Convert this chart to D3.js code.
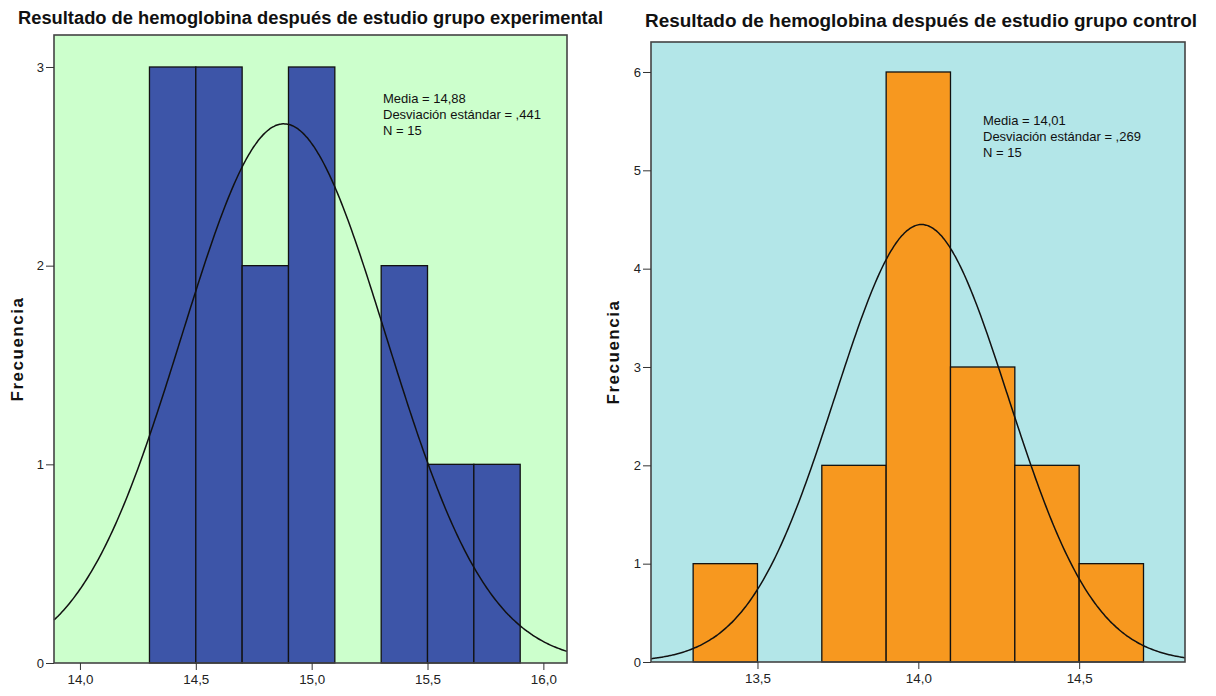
<!DOCTYPE html>
<html>
<head>
<meta charset="utf-8">
<script src="https://cdn.jsdelivr.net/npm/d3@7"></script>
<style>
  body { margin: 0; background: #fff; }
  svg { display: block; }
  .tick text { font-family: "Liberation Sans", Arial, sans-serif; font-size: 13px; fill: #222; }
  .tick line { stroke: #333; }
</style>
</head>
<body>
<svg id="chart" width="1216" height="696"></svg>
<script>
// Experimental group: bin edges and counts
const expEdges = [14.3, 14.5, 14.7, 14.9, 15.1, 15.3, 15.5, 15.7, 15.9];
const expCounts = [3, 3, 2, 3, 0, 2, 1, 1];
const expXTicks = [14.0, 14.5, 15.0, 15.5, 16.0];
const expYTicks = [0, 1, 2, 3];
const expStats = { mean: 14.88, sd: 0.441, n: 15 };
const expLabels = ['Media = 14,88', 'Desviación estándar = ,441', 'N = 15'];

// Control group
const ctrlEdges = [13.3, 13.5, 13.7, 13.9, 14.1, 14.3, 14.5, 14.7];
const ctrlCounts = [1, 0, 2, 6, 3, 2, 1];
const ctrlXTicks = [13.5, 14.0, 14.5];
const ctrlYTicks = [0, 1, 2, 3, 4, 5, 6];
const ctrlStats = { mean: 14.01, sd: 0.269, n: 15 };
const ctrlLabels = ['Media = 14,01', 'Desviación estándar = ,269', 'N = 15'];

const svg = d3.select('#chart');
const fmt = d => d3.format('.1f')(d).replace('.', ',');

function drawHist(cfg) {
  const g = svg.append('g');
  const x = d3.scaleLinear().domain(cfg.xDomain).range([cfg.left, cfg.right]);
  const y = d3.scaleLinear().domain(cfg.yDomain).range([cfg.bottom, cfg.top]);

  // Title
  g.append('text')
    .attr('x', cfg.titleX)
    .attr('y', cfg.titleY)
    .attr('font-family', '"Liberation Sans Narrow", "Arial Narrow", sans-serif')
    .attr('font-weight', 'bold')
    .attr('font-size', '18px')
    .attr('fill', '#111')
    .attr('textLength', cfg.titleW)
    .attr('lengthAdjust', 'spacingAndGlyphs')
    .text(cfg.title);

  // Plot background
  g.append('rect')
    .attr('x', cfg.left).attr('y', cfg.top)
    .attr('width', cfg.right - cfg.left).attr('height', cfg.bottom - cfg.top)
    .attr('fill', cfg.bg);

  // Bars
  const bins = cfg.counts.map((c, i) => ({ x0: cfg.edges[i], x1: cfg.edges[i + 1], c }))
    .filter(d => d.c > 0);
  g.selectAll('.bar')
    .data(bins)
    .enter()
    .append('rect')
    .attr('class', 'bar')
    .attr('x', d => x(d.x0))
    .attr('y', d => y(d.c))
    .attr('width', d => x(d.x1) - x(d.x0))
    .attr('height', d => y(0) - y(d.c))
    .attr('fill', cfg.barColor)
    .attr('stroke', '#111')
    .attr('stroke-width', 1.3);

  // Normal curve
  const s = cfg.stats;
  const bw = cfg.edges[1] - cfg.edges[0];
  const dens = v => s.n * bw / (s.sd * Math.sqrt(2 * Math.PI)) * Math.exp(-0.5 * Math.pow((v - s.mean) / s.sd, 2));
  const pts = d3.range(cfg.xDomain[0], cfg.xDomain[1] + 0.001, (cfg.xDomain[1] - cfg.xDomain[0]) / 300);
  g.append('path')
    .datum(pts)
    .attr('d', d3.line().x(v => x(v)).y(v => y(dens(v))).curve(d3.curveBasis))
    .attr('fill', 'none')
    .attr('stroke', '#111')
    .attr('stroke-width', 1.5);

  // Frame
  g.append('rect')
    .attr('x', cfg.left).attr('y', cfg.top)
    .attr('width', cfg.right - cfg.left).attr('height', cfg.bottom - cfg.top)
    .attr('fill', 'none')
    .attr('stroke', '#444')
    .attr('stroke-width', 1.6);

  // Axes
  const xa = g.append('g')
    .attr('transform', `translate(0,${cfg.bottom})`)
    .call(d3.axisBottom(x).tickValues(cfg.xTicks).tickSize(7).tickPadding(5).tickFormat(fmt));
  xa.select('.domain').remove();
  xa.selectAll('.tick text').attr('textLength', 26).attr('lengthAdjust', 'spacingAndGlyphs');

  const ya = g.append('g')
    .attr('transform', `translate(${cfg.left},0)`)
    .call(d3.axisLeft(y).tickValues(cfg.yTicks).tickSize(8).tickPadding(2).tickFormat(d3.format('d')));
  ya.select('.domain').remove();

  // Y label
  g.append('text')
    .attr('transform', `translate(${cfg.yLabelX},${(cfg.top + cfg.bottom) / 2}) rotate(-90)`)
    .attr('text-anchor', 'middle')
    .attr('font-family', '"Liberation Sans", Arial, sans-serif')
    .attr('font-weight', 'bold')
    .attr('font-size', '17px')
    .attr('letter-spacing', '1.5px')
    .attr('fill', '#111')
    .text('Frecuencia');

  // Stats annotation
  g.append('g')
    .selectAll('text')
    .data(cfg.labels)
    .enter()
    .append('text')
    .attr('x', cfg.noteX)
    .attr('y', (d, i) => cfg.noteY + i * 16)
    .attr('font-family', '"Liberation Sans", Arial, sans-serif')
    .attr('font-size', '13px')
    .attr('fill', '#111')
    .text(d => d);
}

drawHist({
  title: 'Resultado de hemoglobina después de estudio grupo experimental',
  titleX: 18, titleY: 24, titleW: 585,
  left: 54, right: 567, top: 35, bottom: 663,
  xDomain: [13.888, 16.102], yDomain: [0, 3.161],
  edges: expEdges, counts: expCounts, stats: expStats,
  xTicks: expXTicks, yTicks: expYTicks,
  bg: '#ccffcc', barColor: '#3d55a8',
  yLabelX: 23, labels: expLabels, noteX: 383, noteY: 103
});

drawHist({
  title: 'Resultado de hemoglobina después de estudio grupo control',
  titleX: 645, titleY: 27, titleW: 552,
  left: 651, right: 1185, top: 42, bottom: 662,
  xDomain: [13.169, 14.829], yDomain: [0, 6.305],
  edges: ctrlEdges, counts: ctrlCounts, stats: ctrlStats,
  xTicks: ctrlXTicks, yTicks: ctrlYTicks,
  bg: '#b3e6e8', barColor: '#f7981f',
  yLabelX: 619, labels: ctrlLabels, noteX: 983, noteY: 125
});
</script>
</body>
</html>
